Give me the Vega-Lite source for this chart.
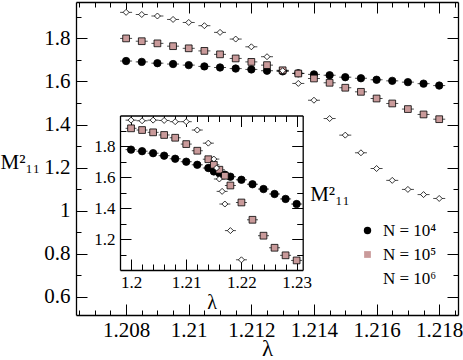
{
  "$schema": "https://vega.github.io/schema/vega-lite/v6.json",
  "width": 382,
  "height": 313,
  "autosize": {"type": "none"},
  "padding": {"left": 76, "top": 2, "right": 5, "bottom": 45},
  "background": "white",
  "config": {
    "view": {"stroke": null},
    "font": "Liberation Serif",
    "axis": {
      "grid": false,
      "domainColor": "black",
      "domainWidth": 1.3,
      "tickColor": "black",
      "tickWidth": 1,
      "labelColor": "black",
      "labelFont": "Liberation Serif",
      "titleFont": "Liberation Serif",
      "titleColor": "black",
      "titleFontWeight": "normal",
      "labelOverlap": false,
      "labelFlush": false,
      "labelBound": false
    },
    "legend": {
      "labelFont": "Liberation Serif",
      "symbolStrokeColor": "black",
      "symbolStrokeWidth": 0.8
    }
  },
  "data": {
    "values": [
      {"p": "m", "N": "N = 10⁴", "x": 1.208, "y": 1.695},
      {"p": "m", "N": "N = 10⁴", "x": 1.2085, "y": 1.691},
      {"p": "m", "N": "N = 10⁴", "x": 1.209, "y": 1.685},
      {"p": "m", "N": "N = 10⁴", "x": 1.2095, "y": 1.681},
      {"p": "m", "N": "N = 10⁴", "x": 1.21, "y": 1.676},
      {"p": "m", "N": "N = 10⁴", "x": 1.2105, "y": 1.67},
      {"p": "m", "N": "N = 10⁴", "x": 1.211, "y": 1.665},
      {"p": "m", "N": "N = 10⁴", "x": 1.2115, "y": 1.66},
      {"p": "m", "N": "N = 10⁴", "x": 1.212, "y": 1.656},
      {"p": "m", "N": "N = 10⁴", "x": 1.2125, "y": 1.65},
      {"p": "m", "N": "N = 10⁴", "x": 1.213, "y": 1.647},
      {"p": "m", "N": "N = 10⁴", "x": 1.2135, "y": 1.638},
      {"p": "m", "N": "N = 10⁴", "x": 1.214, "y": 1.633},
      {"p": "m", "N": "N = 10⁴", "x": 1.2145, "y": 1.629},
      {"p": "m", "N": "N = 10⁴", "x": 1.215, "y": 1.62},
      {"p": "m", "N": "N = 10⁴", "x": 1.2155, "y": 1.615},
      {"p": "m", "N": "N = 10⁴", "x": 1.216, "y": 1.608},
      {"p": "m", "N": "N = 10⁴", "x": 1.2165, "y": 1.603},
      {"p": "m", "N": "N = 10⁴", "x": 1.217, "y": 1.597},
      {"p": "m", "N": "N = 10⁴", "x": 1.2175, "y": 1.59},
      {"p": "m", "N": "N = 10⁴", "x": 1.218, "y": 1.581},
      {"p": "m", "N": "N = 10⁵", "x": 1.208, "y": 1.8},
      {"p": "m", "N": "N = 10⁵", "x": 1.2085, "y": 1.787},
      {"p": "m", "N": "N = 10⁵", "x": 1.209, "y": 1.777},
      {"p": "m", "N": "N = 10⁵", "x": 1.2095, "y": 1.764},
      {"p": "m", "N": "N = 10⁵", "x": 1.21, "y": 1.754},
      {"p": "m", "N": "N = 10⁵", "x": 1.2105, "y": 1.742},
      {"p": "m", "N": "N = 10⁵", "x": 1.211, "y": 1.726},
      {"p": "m", "N": "N = 10⁵", "x": 1.2115, "y": 1.707},
      {"p": "m", "N": "N = 10⁵", "x": 1.212, "y": 1.691},
      {"p": "m", "N": "N = 10⁵", "x": 1.2125, "y": 1.676},
      {"p": "m", "N": "N = 10⁵", "x": 1.213, "y": 1.652},
      {"p": "m", "N": "N = 10⁵", "x": 1.2135, "y": 1.637},
      {"p": "m", "N": "N = 10⁵", "x": 1.214, "y": 1.614},
      {"p": "m", "N": "N = 10⁵", "x": 1.2145, "y": 1.594},
      {"p": "m", "N": "N = 10⁵", "x": 1.215, "y": 1.571},
      {"p": "m", "N": "N = 10⁵", "x": 1.2155, "y": 1.552},
      {"p": "m", "N": "N = 10⁵", "x": 1.216, "y": 1.521},
      {"p": "m", "N": "N = 10⁵", "x": 1.2165, "y": 1.498},
      {"p": "m", "N": "N = 10⁵", "x": 1.217, "y": 1.472},
      {"p": "m", "N": "N = 10⁵", "x": 1.2175, "y": 1.447},
      {"p": "m", "N": "N = 10⁵", "x": 1.218, "y": 1.425},
      {"p": "m", "N": "N = 10⁶", "x": 1.208, "y": 1.921},
      {"p": "m", "N": "N = 10⁶", "x": 1.2085, "y": 1.911},
      {"p": "m", "N": "N = 10⁶", "x": 1.209, "y": 1.904},
      {"p": "m", "N": "N = 10⁶", "x": 1.2095, "y": 1.888},
      {"p": "m", "N": "N = 10⁶", "x": 1.21, "y": 1.874},
      {"p": "m", "N": "N = 10⁶", "x": 1.2105, "y": 1.859},
      {"p": "m", "N": "N = 10⁶", "x": 1.211, "y": 1.828},
      {"p": "m", "N": "N = 10⁶", "x": 1.2115, "y": 1.797},
      {"p": "m", "N": "N = 10⁶", "x": 1.212, "y": 1.761},
      {"p": "m", "N": "N = 10⁶", "x": 1.2125, "y": 1.715},
      {"p": "m", "N": "N = 10⁶", "x": 1.213, "y": 1.65},
      {"p": "m", "N": "N = 10⁶", "x": 1.2135, "y": 1.591},
      {"p": "m", "N": "N = 10⁶", "x": 1.214, "y": 1.513},
      {"p": "m", "N": "N = 10⁶", "x": 1.2145, "y": 1.428},
      {"p": "m", "N": "N = 10⁶", "x": 1.215, "y": 1.351},
      {"p": "m", "N": "N = 10⁶", "x": 1.2155, "y": 1.269},
      {"p": "m", "N": "N = 10⁶", "x": 1.216, "y": 1.196},
      {"p": "m", "N": "N = 10⁶", "x": 1.2165, "y": 1.141},
      {"p": "m", "N": "N = 10⁶", "x": 1.217, "y": 1.099},
      {"p": "m", "N": "N = 10⁶", "x": 1.2175, "y": 1.075},
      {"p": "m", "N": "N = 10⁶", "x": 1.218, "y": 1.057},
      {"p": "i", "N": "N = 10⁴", "x": 1.2, "y": 1.779},
      {"p": "i", "N": "N = 10⁴", "x": 1.202, "y": 1.769},
      {"p": "i", "N": "N = 10⁴", "x": 1.204, "y": 1.756},
      {"p": "i", "N": "N = 10⁴", "x": 1.206, "y": 1.74},
      {"p": "i", "N": "N = 10⁴", "x": 1.208, "y": 1.72},
      {"p": "i", "N": "N = 10⁴", "x": 1.21, "y": 1.701},
      {"p": "i", "N": "N = 10⁴", "x": 1.212, "y": 1.681},
      {"p": "i", "N": "N = 10⁴", "x": 1.214, "y": 1.66},
      {"p": "i", "N": "N = 10⁴", "x": 1.215, "y": 1.638},
      {"p": "i", "N": "N = 10⁴", "x": 1.216, "y": 1.626},
      {"p": "i", "N": "N = 10⁴", "x": 1.217, "y": 1.617},
      {"p": "i", "N": "N = 10⁴", "x": 1.218, "y": 1.604},
      {"p": "i", "N": "N = 10⁴", "x": 1.22, "y": 1.584},
      {"p": "i", "N": "N = 10⁴", "x": 1.222, "y": 1.555},
      {"p": "i", "N": "N = 10⁴", "x": 1.224, "y": 1.524},
      {"p": "i", "N": "N = 10⁴", "x": 1.226, "y": 1.492},
      {"p": "i", "N": "N = 10⁴", "x": 1.228, "y": 1.46},
      {"p": "i", "N": "N = 10⁴", "x": 1.23, "y": 1.427},
      {"p": "i", "N": "N = 10⁵", "x": 1.2, "y": 1.917},
      {"p": "i", "N": "N = 10⁵", "x": 1.202, "y": 1.906},
      {"p": "i", "N": "N = 10⁵", "x": 1.204, "y": 1.891},
      {"p": "i", "N": "N = 10⁵", "x": 1.206, "y": 1.874},
      {"p": "i", "N": "N = 10⁵", "x": 1.208, "y": 1.856},
      {"p": "i", "N": "N = 10⁵", "x": 1.21, "y": 1.815},
      {"p": "i", "N": "N = 10⁵", "x": 1.212, "y": 1.772},
      {"p": "i", "N": "N = 10⁵", "x": 1.214, "y": 1.717},
      {"p": "i", "N": "N = 10⁵", "x": 1.215, "y": 1.681},
      {"p": "i", "N": "N = 10⁵", "x": 1.216, "y": 1.649},
      {"p": "i", "N": "N = 10⁵", "x": 1.217, "y": 1.61},
      {"p": "i", "N": "N = 10⁵", "x": 1.218, "y": 1.547},
      {"p": "i", "N": "N = 10⁵", "x": 1.22, "y": 1.437},
      {"p": "i", "N": "N = 10⁵", "x": 1.222, "y": 1.325},
      {"p": "i", "N": "N = 10⁵", "x": 1.224, "y": 1.222},
      {"p": "i", "N": "N = 10⁵", "x": 1.226, "y": 1.144},
      {"p": "i", "N": "N = 10⁵", "x": 1.228, "y": 1.095},
      {"p": "i", "N": "N = 10⁵", "x": 1.23, "y": 1.062},
      {"p": "i", "N": "N = 10⁶", "x": 1.2, "y": 1.97},
      {"p": "i", "N": "N = 10⁶", "x": 1.202, "y": 1.966},
      {"p": "i", "N": "N = 10⁶", "x": 1.204, "y": 1.97},
      {"p": "i", "N": "N = 10⁶", "x": 1.206, "y": 1.968},
      {"p": "i", "N": "N = 10⁶", "x": 1.208, "y": 1.96},
      {"p": "i", "N": "N = 10⁶", "x": 1.21, "y": 1.96},
      {"p": "i", "N": "N = 10⁶", "x": 1.212, "y": 1.906},
      {"p": "i", "N": "N = 10⁶", "x": 1.214, "y": 1.821},
      {"p": "i", "N": "N = 10⁶", "x": 1.215, "y": 1.718},
      {"p": "i", "N": "N = 10⁶", "x": 1.2155, "y": 1.66},
      {"p": "i", "N": "N = 10⁶", "x": 1.216, "y": 1.589},
      {"p": "i", "N": "N = 10⁶", "x": 1.2165, "y": 1.509},
      {"p": "i", "N": "N = 10⁶", "x": 1.217, "y": 1.427},
      {"p": "i", "N": "N = 10⁶", "x": 1.218, "y": 1.255},
      {"p": "i", "N": "N = 10⁶", "x": 1.22, "y": 1.066}
    ]
  },
  "resolve": {
    "scale": {"x": "independent", "y": "independent"},
    "axis": {"x": "independent", "y": "independent"}
  },
  "layer": [
    {
      "transform": [{"filter": "datum.p == 'm'"}],
      "mark": {"type": "tick", "orient": "horizontal", "size": 12, "thickness": 1, "color": "black"},
      "encoding": {
        "x": {"field": "x", "type": "quantitative", "scale": {"domain": [1.2064, 1.2186], "nice": false, "zero": false}, "axis": null},
        "y": {"field": "y", "type": "quantitative", "scale": {"domain": [0.516, 1.969], "nice": false, "zero": false}, "axis": null}
      }
    },
    {
      "transform": [{"filter": "datum.p == 'm'"}],
      "mark": {"type": "point", "filled": false, "stroke": "black", "strokeWidth": 0.8, "opacity": 1, "fillOpacity": 1},
      "encoding": {
        "x": {"field": "x", "type": "quantitative", "scale": {"domain": [1.2064, 1.2186], "nice": false, "zero": false},
          "axis": {
            "orient": "bottom",
            "values": [1.2065, 1.207, 1.2075, 1.208, 1.2085, 1.209, 1.2095, 1.21, 1.2105, 1.211, 1.2115, 1.212, 1.2125, 1.213, 1.2135, 1.214, 1.2145, 1.215, 1.2155, 1.216, 1.2165, 1.217, 1.2175, 1.218, 1.2185],
            "labelExpr": "abs(datum.value*500 - round(datum.value*500)) < 0.01 ? format(datum.value, '~g') : ''",
            "tickSize": {"condition": {"test": "abs(datum.value*500 - round(datum.value*500)) < 0.01", "value": -11}, "value": -5},
            "labelPadding": 15,
            "labelFontSize": 21,
            "title": "λ",
            "titleFontSize": 23,
            "titleX": 191,
            "titleY": 40,
            "titleAlign": "center",
            "titleBaseline": "alphabetic"
          }
        },
        "y": {"field": "y", "type": "quantitative", "scale": {"domain": [0.516, 1.969], "nice": false, "zero": false},
          "axis": {
            "orient": "left",
            "values": [0.6, 0.7, 0.8, 0.9, 1.0, 1.1, 1.2, 1.3, 1.4, 1.5, 1.6, 1.7, 1.8, 1.9],
            "labelExpr": "abs(datum.value*5 - round(datum.value*5)) < 0.01 ? format(datum.value, '~g') : ''",
            "tickSize": {"condition": {"test": "abs(datum.value*5 - round(datum.value*5)) < 0.01", "value": -11}, "value": -5},
            "labelPadding": 17,
            "labelFontSize": 21,
            "title": "M²₁₁",
            "titleFontSize": 21,
            "titleAngle": 0,
            "titleX": -76,
            "titleY": 166,
            "titleAlign": "left",
            "titleBaseline": "alphabetic"
          }
        },
        "shape": {"field": "N", "type": "nominal", "scale": {"domain": ["N = 10⁴", "N = 10⁵", "N = 10⁶"], "range": ["circle", "square", "diamond"]},
          "legend": {"orient": "none", "legendX": 283, "legendY": 220, "title": null, "padding": 0, "labelFontSize": 17, "labelColor": "black", "rowPadding": 6, "labelOffset": 7}},
        "fill": {"field": "N", "type": "nominal", "scale": {"domain": ["N = 10⁴", "N = 10⁵", "N = 10⁶"], "range": ["black", "#c99a9a", "white"]},
          "legend": {"orient": "none", "legendX": 283, "legendY": 220, "title": null, "padding": 0, "labelFontSize": 17, "labelColor": "black", "rowPadding": 6, "labelOffset": 7}},
        "size": {"field": "N", "type": "nominal", "scale": {"domain": ["N = 10⁴", "N = 10⁵", "N = 10⁶"], "range": [55, 36, 45]},
          "legend": {"orient": "none", "legendX": 283, "legendY": 220, "title": null, "padding": 0, "labelFontSize": 17, "labelColor": "black", "rowPadding": 6, "labelOffset": 7}}
      }
    },
    {
      "transform": [{"filter": "datum.p == 'm'"}],
      "mark": {"type": "point", "opacity": 0},
      "encoding": {
        "x": {"field": "x", "type": "quantitative", "scale": {"domain": [1.2064, 1.2186], "nice": false, "zero": false},
          "axis": {
            "orient": "top",
            "values": [1.2065, 1.207, 1.2075, 1.208, 1.2085, 1.209, 1.2095, 1.21, 1.2105, 1.211, 1.2115, 1.212, 1.2125, 1.213, 1.2135, 1.214, 1.2145, 1.215, 1.2155, 1.216, 1.2165, 1.217, 1.2175, 1.218, 1.2185],
            "labels": false,
            "title": null,
            "tickSize": {"condition": {"test": "abs(datum.value*500 - round(datum.value*500)) < 0.01", "value": -11}, "value": -5}
          }
        },
        "y": {"field": "y", "type": "quantitative", "scale": {"domain": [0.516, 1.969], "nice": false, "zero": false},
          "axis": {
            "orient": "right",
            "values": [0.6, 0.7, 0.8, 0.9, 1.0, 1.1, 1.2, 1.3, 1.4, 1.5, 1.6, 1.7, 1.8, 1.9],
            "labels": false,
            "title": null,
            "tickSize": {"condition": {"test": "abs(datum.value*5 - round(datum.value*5)) < 0.01", "value": -11}, "value": -5}
          }
        }
      }
    },
    {
      "transform": [{"filter": "datum.p == 'i'"}],
      "mark": {"type": "tick", "orient": "horizontal", "size": 11, "thickness": 1, "color": "black"},
      "encoding": {
        "x": {"field": "x", "type": "quantitative", "scale": {"domain": [1.198, 1.2311], "range": [44, 226.7], "nice": false, "zero": false}, "axis": null},
        "y": {"field": "y", "type": "quantitative", "scale": {"domain": [1.0, 2.0], "range": [268, 113.5], "nice": false, "zero": false}, "axis": null}
      }
    },
    {
      "transform": [{"filter": "datum.p == 'i'"}],
      "mark": {"type": "point", "filled": false, "stroke": "black", "strokeWidth": 0.8, "opacity": 1, "fillOpacity": 1},
      "encoding": {
        "x": {"field": "x", "type": "quantitative", "scale": {"domain": [1.198, 1.2311], "range": [44, 226.7], "nice": false, "zero": false},
          "axis": {
            "orient": "bottom",
            "offset": -45,
            "values": [1.2, 1.202, 1.204, 1.206, 1.208, 1.21, 1.212, 1.214, 1.216, 1.218, 1.22, 1.222, 1.224, 1.226, 1.228, 1.23],
            "labelExpr": "abs(datum.value*100 - round(datum.value*100)) < 0.01 ? format(datum.value, '~g') : ''",
            "tickSize": {"condition": {"test": "abs(datum.value*100 - round(datum.value*100)) < 0.01", "value": -11}, "value": -6},
            "labelPadding": 15,
            "labelFontSize": 17,
            "title": "λ",
            "titleFontSize": 20,
            "titleX": 135.7,
            "titleY": 38,
            "titleAlign": "center",
            "titleBaseline": "alphabetic"
          }
        },
        "y": {"field": "y", "type": "quantitative", "scale": {"domain": [1.0, 2.0], "range": [268, 113.5], "nice": false, "zero": false},
          "axis": {
            "orient": "left",
            "offset": -44,
            "values": [1.1, 1.2, 1.3, 1.4, 1.5, 1.6, 1.7, 1.8, 1.9],
            "labelExpr": "abs(datum.value*5 - round(datum.value*5)) < 0.01 ? format(datum.value, '~g') : ''",
            "tickSize": {"condition": {"test": "abs(datum.value*5 - round(datum.value*5)) < 0.01", "value": -11}, "value": -6},
            "labelPadding": 16,
            "labelFontSize": 17,
            "title": null
          }
        },
        "shape": {"field": "N", "type": "nominal", "scale": {"domain": ["N = 10⁴", "N = 10⁵", "N = 10⁶"], "range": ["circle", "square", "diamond"]}},
        "fill": {"field": "N", "type": "nominal", "scale": {"domain": ["N = 10⁴", "N = 10⁵", "N = 10⁶"], "range": ["black", "#c99a9a", "white"]}},
        "size": {"field": "N", "type": "nominal", "scale": {"domain": ["N = 10⁴", "N = 10⁵", "N = 10⁶"], "range": [55, 36, 45]}}
      }
    },
    {
      "transform": [{"filter": "datum.p == 'i'"}],
      "mark": {"type": "point", "opacity": 0},
      "encoding": {
        "x": {"field": "x", "type": "quantitative", "scale": {"domain": [1.198, 1.2311], "range": [44, 226.7], "nice": false, "zero": false},
          "axis": {
            "orient": "top",
            "offset": -113.5,
            "values": [1.2, 1.202, 1.204, 1.206, 1.208, 1.21, 1.212, 1.214, 1.216, 1.218, 1.22, 1.222, 1.224, 1.226, 1.228, 1.23],
            "labels": false,
            "title": null,
            "tickSize": {"condition": {"test": "abs(datum.value*100 - round(datum.value*100)) < 0.01", "value": -11}, "value": -6}
          }
        },
        "y": {"field": "y", "type": "quantitative", "scale": {"domain": [1.0, 2.0], "range": [268, 113.5], "nice": false, "zero": false},
          "axis": {
            "orient": "right",
            "offset": -155.3,
            "values": [1.1, 1.2, 1.3, 1.4, 1.5, 1.6, 1.7, 1.8, 1.9],
            "labels": false,
            "tickSize": {"condition": {"test": "abs(datum.value*5 - round(datum.value*5)) < 0.01", "value": -11}, "value": -6},
            "title": "M²₁₁",
            "titleFontSize": 21,
            "titleAngle": 0,
            "titleX": 7,
            "titleY": 198,
            "titleAlign": "left",
            "titleBaseline": "alphabetic"
          }
        }
      }
    }
  ]
}
